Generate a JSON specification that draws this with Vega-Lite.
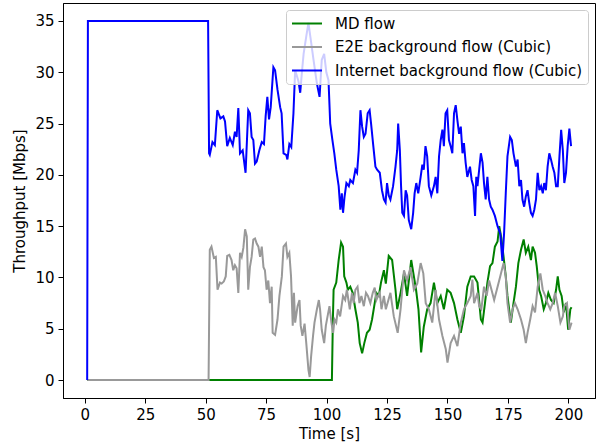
{
"$schema": "https://vega.github.io/schema/vega-lite/v6.json",
"width": 532, "height": 395,
"autosize": "none",
"padding": {"left": 63, "top": 3, "right": 4, "bottom": 50},
"config": {
  "font": "DejaVu Sans",
  "view": {"stroke": "black", "strokeWidth": 1},
  "axis": {"labelFont": "DejaVu Sans", "titleFont": "DejaVu Sans", "labelFontSize": 15, "titleFontSize": 15, "titleFontWeight": "normal", "labelColor": "black", "titleColor": "black", "tickColor": "black", "domainColor": "black", "tickSize": 5, "labelPadding": 4, "grid": false},
  "legend": {"labelFont": "DejaVu Sans", "labelFontSize": 15, "labelColor": "black", "labelLimit": 1000}
},
"layer": [
{
"data": {"values": [
{"t":1,"y":0},{"t":102.2,"y":0},{"t":102.6,"y":5.8},{"t":102.9,"y":8.8},{"t":104,"y":9.5},{"t":105,"y":11.7},{"t":106,"y":13.4},{"t":106.8,"y":13},{"t":107.3,"y":10.1},{"t":108.2,"y":9.5},{"t":108.8,"y":8.8},{"t":109.8,"y":9.1},{"t":110.8,"y":8.5},{"t":111.9,"y":6.9},{"t":112.9,"y":5.6},{"t":113.7,"y":3.6},{"t":114.7,"y":2.6},{"t":115.6,"y":3.6},{"t":116.7,"y":4.6},{"t":117.8,"y":4.9},{"t":118.8,"y":5.9},{"t":119.7,"y":7.2},{"t":120.6,"y":8.5},{"t":121.6,"y":8.2},{"t":122.5,"y":9.5},{"t":123.7,"y":10.7},{"t":124.5,"y":9.4},{"t":125.7,"y":12.1},{"t":127.1,"y":11.7},{"t":128.5,"y":8.8},{"t":129.2,"y":6.9},{"t":130.6,"y":8.5},{"t":132,"y":10.4},{"t":133.3,"y":8.2},{"t":135,"y":11.7},{"t":136.1,"y":10.1},{"t":137,"y":8.8},{"t":138,"y":6.9},{"t":139.1,"y":2.7},{"t":140.2,"y":5.2},{"t":141.6,"y":6.9},{"t":143,"y":7.5},{"t":144.4,"y":9.5},{"t":145.8,"y":7.5},{"t":147.2,"y":8.2},{"t":148.5,"y":6.9},{"t":149.9,"y":8.8},{"t":151.3,"y":8.5},{"t":152.7,"y":7.5},{"t":154.1,"y":5.9},{"t":155.5,"y":4.6},{"t":156.8,"y":6.2},{"t":158.2,"y":9.1},{"t":159.6,"y":10.1},{"t":161,"y":10.1},{"t":162.4,"y":9.5},{"t":163.8,"y":5.9},{"t":164.5,"y":5.6},{"t":165.5,"y":7.5},{"t":166.5,"y":9.5},{"t":167.6,"y":11.1},{"t":168.6,"y":11.4},{"t":169.6,"y":13},{"t":170.7,"y":13.5},{"t":171.4,"y":15},{"t":172.3,"y":13.8},{"t":173.2,"y":12},{"t":174.1,"y":10.1},{"t":174.8,"y":8.2},{"t":175.5,"y":6.9},{"t":176.2,"y":5.6},{"t":177.3,"y":7.5},{"t":178.3,"y":9.1},{"t":179.3,"y":11.4},{"t":180.4,"y":12.7},{"t":181.5,"y":13.7},{"t":182.4,"y":12.4},{"t":183.4,"y":13},{"t":184.5,"y":11.7},{"t":185.2,"y":13},{"t":186.2,"y":12.4},{"t":186.9,"y":11.1},{"t":187.9,"y":8.8},{"t":188.7,"y":8.2},{"t":189.8,"y":6.9},{"t":190.7,"y":7.5},{"t":191.7,"y":8.5},{"t":192.8,"y":7.8},{"t":193.9,"y":7.5},{"t":194.9,"y":8.8},{"t":195.6,"y":10.1},{"t":196.3,"y":8.8},{"t":197.2,"y":8.2},{"t":198.1,"y":6.6},{"t":199,"y":7.5},{"t":199.9,"y":4.9},{"t":200.8,"y":6.9},{"t":201.3,"y":7.1}
]},
"mark": {"type": "line", "strokeWidth": 2, "interpolate": "linear"},
"encoding": {
  "x": {"field": "t", "type": "quantitative", "scale": {"domain": [-9, 211], "nice": false, "zero": false}, "axis": {"values": [0,25,50,75,100,125,150,175,200], "title": "Time [s]", "titlePadding": 4}},
  "y": {"field": "y", "type": "quantitative", "scale": {"domain": [-1.75, 36.75], "nice": false, "zero": false}, "axis": {"values": [0,5,10,15,20,25,30,35], "title": "Throughput [Mbps]", "titlePadding": 7}},
  "color": {"datum": "MD flow", "type": "nominal", "scale": {"domain": ["MD flow", "E2E background flow (Cubic)", "Internet background flow (Cubic)"], "range": ["#008000", "#999999", "#0000ff"]},
    "legend": {"title": null, "orient": "top-right", "offset": 7, "symbolType": "M-1,0H3", "symbolSize": 225, "symbolStrokeWidth": 2, "labelOffset": 27, "rowPadding": 6.5, "padding": 5, "fillColor": "rgba(255,255,255,0.8)", "strokeColor": "#cccccc", "cornerRadius": 3, "zindex": 1}}
}
},
{
"data": {"values": [
{"t":1,"y":0},{"t":51.2,"y":0},{"t":51.7,"y":12.7},{"t":52.4,"y":13},{"t":53.4,"y":11.9},{"t":54.2,"y":12},{"t":54.9,"y":8.8},{"t":55.9,"y":9.5},{"t":56.6,"y":9.4},{"t":57.5,"y":9.6},{"t":58.3,"y":10.1},{"t":58.9,"y":12.1},{"t":59.8,"y":12.2},{"t":60.7,"y":11.7},{"t":61.4,"y":10.7},{"t":62.1,"y":11.2},{"t":62.8,"y":10.9},{"t":63.5,"y":8.5},{"t":64.2,"y":12.4},{"t":64.9,"y":12},{"t":65.6,"y":12.9},{"t":66.3,"y":14.7},{"t":67,"y":14},{"t":67.6,"y":8.8},{"t":68.3,"y":11},{"t":69,"y":12},{"t":69.7,"y":13.7},{"t":70.4,"y":13.8},{"t":71.1,"y":13.3},{"t":71.8,"y":13},{"t":72.5,"y":12},{"t":73.2,"y":13},{"t":73.9,"y":11},{"t":74.5,"y":10.7},{"t":75.2,"y":8.8},{"t":75.9,"y":9.7},{"t":76.6,"y":7.5},{"t":77.3,"y":9.1},{"t":77.7,"y":4.6},{"t":78.7,"y":4.4},{"t":79.7,"y":5.9},{"t":80.5,"y":8.2},{"t":81.5,"y":10.1},{"t":82.2,"y":13},{"t":83.2,"y":13.3},{"t":83.8,"y":12},{"t":84.6,"y":12.4},{"t":85.3,"y":10.1},{"t":86,"y":5.3},{"t":86.5,"y":8.5},{"t":87,"y":5.6},{"t":88,"y":7.2},{"t":88.8,"y":7.8},{"t":89.3,"y":5.3},{"t":90,"y":4.3},{"t":90.9,"y":5.5},{"t":91.6,"y":3.6},{"t":92.5,"y":1},{"t":93,"y":0.3},{"t":93.6,"y":2.3},{"t":94.4,"y":4.3},{"t":95,"y":5.6},{"t":96,"y":6.9},{"t":96.8,"y":7.8},{"t":97.3,"y":6.9},{"t":98,"y":4.9},{"t":99,"y":3.6},{"t":99.7,"y":5.3},{"t":100.4,"y":6.2},{"t":101.2,"y":7.2},{"t":102,"y":5.6},{"t":102.7,"y":4.6},{"t":103.3,"y":5.9},{"t":104,"y":5.6},{"t":104.7,"y":6.9},{"t":105.6,"y":6.2},{"t":106.8,"y":8.2},{"t":107.7,"y":7.8},{"t":108.4,"y":8.8},{"t":109.6,"y":6.9},{"t":110.5,"y":8.5},{"t":111.2,"y":7.5},{"t":111.9,"y":8.8},{"t":112.8,"y":9.1},{"t":113.6,"y":7.5},{"t":114.4,"y":8.2},{"t":115.4,"y":7.2},{"t":116.3,"y":8.5},{"t":117.1,"y":8.2},{"t":118.1,"y":7.5},{"t":119.1,"y":8.5},{"t":119.9,"y":9},{"t":120.6,"y":7.8},{"t":121.3,"y":8.2},{"t":122,"y":8.5},{"t":122.7,"y":6.9},{"t":123.7,"y":8.2},{"t":124.5,"y":6.9},{"t":126.4,"y":8.5},{"t":127.8,"y":6.2},{"t":129.4,"y":4.6},{"t":130.6,"y":6.9},{"t":132,"y":10.7},{"t":133.3,"y":9.7},{"t":134.7,"y":11},{"t":136.1,"y":8.8},{"t":137.5,"y":9.4},{"t":138.9,"y":11.4},{"t":140,"y":10.4},{"t":141,"y":7.5},{"t":142.3,"y":6.9},{"t":143.7,"y":5.6},{"t":145.1,"y":8.8},{"t":146.5,"y":5.9},{"t":147.9,"y":4.3},{"t":149.3,"y":3},{"t":150,"y":1.7},{"t":151.3,"y":3.6},{"t":152.7,"y":4.3},{"t":154.1,"y":3.3},{"t":155.5,"y":5.6},{"t":156.8,"y":6.9},{"t":158.2,"y":7.5},{"t":159.6,"y":8.2},{"t":160.3,"y":9.8},{"t":161,"y":7.5},{"t":162.4,"y":8.5},{"t":163.1,"y":7.2},{"t":164,"y":6.9},{"t":165.1,"y":9.1},{"t":166.2,"y":8.2},{"t":167.2,"y":9.7},{"t":168.2,"y":8.8},{"t":169.3,"y":7.8},{"t":170.4,"y":8.8},{"t":171.8,"y":10.1},{"t":173.2,"y":11.4},{"t":174.1,"y":10.1},{"t":174.8,"y":7.5},{"t":175.9,"y":5.6},{"t":176.9,"y":6.9},{"t":177.9,"y":7.5},{"t":179,"y":6.9},{"t":180.4,"y":5.9},{"t":181.5,"y":4.9},{"t":182.4,"y":3.6},{"t":183.1,"y":4.6},{"t":184.2,"y":5.9},{"t":185.2,"y":7.2},{"t":186.2,"y":6.6},{"t":187.3,"y":9.1},{"t":188.4,"y":10.4},{"t":189.4,"y":8.8},{"t":190.4,"y":8.2},{"t":191.4,"y":7.5},{"t":192.5,"y":6.9},{"t":193.5,"y":7.5},{"t":194.5,"y":8.5},{"t":195.6,"y":7.2},{"t":196.7,"y":5.6},{"t":197.7,"y":6.2},{"t":198.3,"y":7.2},{"t":199.4,"y":7.5},{"t":200.4,"y":4.9},{"t":201.3,"y":5.6}
]},
"mark": {"type": "line", "strokeWidth": 2},
"encoding": {
  "x": {"field": "t", "type": "quantitative"},
  "y": {"field": "y", "type": "quantitative"},
  "color": {"datum": "E2E background flow (Cubic)", "type": "nominal"}
}
},
{
"data": {"values": [
{"t":1,"y":0},{"t":1.3,"y":35},{"t":51,"y":35},{"t":51.4,"y":22.1},{"t":51.7,"y":21.95},{"t":52.8,"y":23.2},{"t":53.8,"y":22.9},{"t":54.8,"y":26.3},{"t":56.1,"y":25.5},{"t":57.3,"y":25.7},{"t":58,"y":25.2},{"t":58.9,"y":22.8},{"t":60,"y":23.6},{"t":61.2,"y":22.9},{"t":62.1,"y":24.2},{"t":62.8,"y":23.7},{"t":63.5,"y":26.5},{"t":64.2,"y":22.1},{"t":65.3,"y":22.4},{"t":66.5,"y":20.2},{"t":67.6,"y":26.3},{"t":68.3,"y":26},{"t":69,"y":23.7},{"t":69.7,"y":23.4},{"t":70.4,"y":21.1},{"t":71.1,"y":21.3},{"t":72.2,"y":22.4},{"t":73.2,"y":23.2},{"t":74.1,"y":23},{"t":74.8,"y":25.7},{"t":75.5,"y":27.6},{"t":76.2,"y":25.4},{"t":76.9,"y":26.6},{"t":78,"y":30.5},{"t":78.7,"y":30.2},{"t":79.7,"y":28.3},{"t":80.8,"y":26.6},{"t":81.4,"y":26},{"t":82.2,"y":22.1},{"t":83.3,"y":21.95},{"t":83.8,"y":21.5},{"t":84.6,"y":23},{"t":85.4,"y":22.7},{"t":86.3,"y":26},{"t":87,"y":30.2},{"t":88.4,"y":29.1},{"t":89.1,"y":28},{"t":89.8,"y":30},{"t":90.5,"y":31.8},{"t":91.6,"y":33.5},{"t":92.5,"y":34.8},{"t":93.5,"y":33.1},{"t":94.6,"y":31.2},{"t":96,"y":28.9},{"t":97.1,"y":27.6},{"t":98,"y":31.2},{"t":99,"y":31.8},{"t":99.9,"y":30},{"t":100.8,"y":29.2},{"t":101.5,"y":25},{"t":102.4,"y":23.4},{"t":103.2,"y":22.1},{"t":104,"y":20.5},{"t":105,"y":18.9},{"t":105.7,"y":16.6},{"t":106.3,"y":18.2},{"t":106.8,"y":16.3},{"t":107.4,"y":17.8},{"t":108.2,"y":19.2},{"t":109.2,"y":18.9},{"t":109.8,"y":19.5},{"t":110.9,"y":19.2},{"t":111.9,"y":20.5},{"t":112.6,"y":20.2},{"t":113.3,"y":22.4},{"t":114,"y":26.3},{"t":114.7,"y":24.7},{"t":115.4,"y":23.7},{"t":116.1,"y":24},{"t":117,"y":26},{"t":117.8,"y":26.3},{"t":118.4,"y":25},{"t":119.2,"y":23.1},{"t":120.2,"y":20.8},{"t":120.9,"y":20.5},{"t":122,"y":20.2},{"t":122.9,"y":18.5},{"t":123.7,"y":17.6},{"t":124.4,"y":17.3},{"t":125,"y":19.2},{"t":125.7,"y":18},{"t":126.4,"y":17.6},{"t":127.5,"y":18.9},{"t":128.5,"y":20.8},{"t":129.2,"y":22.4},{"t":129.6,"y":25},{"t":130.3,"y":22.4},{"t":130.8,"y":18.9},{"t":131.3,"y":16.3},{"t":132,"y":16},{"t":132.7,"y":18.5},{"t":133.3,"y":18},{"t":134,"y":15.6},{"t":135,"y":14.7},{"t":135.8,"y":16.3},{"t":136.4,"y":18.2},{"t":137.1,"y":19.2},{"t":137.9,"y":18.2},{"t":138.9,"y":19.8},{"t":139.6,"y":21},{"t":140.2,"y":20.5},{"t":140.9,"y":22.8},{"t":141.6,"y":21.8},{"t":142.3,"y":18.9},{"t":143.3,"y":18},{"t":144.4,"y":18.9},{"t":145.1,"y":19.8},{"t":145.8,"y":18.2},{"t":146.5,"y":21.8},{"t":147.2,"y":23.4},{"t":147.9,"y":24.4},{"t":148.5,"y":22.8},{"t":149.2,"y":26},{"t":149.9,"y":26.3},{"t":150.6,"y":23.4},{"t":151.3,"y":22.8},{"t":152,"y":22.1},{"t":152.7,"y":26},{"t":153.4,"y":26.8},{"t":154.1,"y":25.3},{"t":154.8,"y":24},{"t":155.5,"y":24.7},{"t":156.2,"y":22.1},{"t":156.8,"y":23.1},{"t":157.5,"y":21.2},{"t":158.2,"y":19.8},{"t":159.3,"y":20.8},{"t":160,"y":19.5},{"t":160.7,"y":18.9},{"t":161.4,"y":16},{"t":161.9,"y":19.8},{"t":162.4,"y":18.9},{"t":163.1,"y":20.5},{"t":163.8,"y":22.1},{"t":164.5,"y":21.2},{"t":165.1,"y":19.2},{"t":165.8,"y":17.6},{"t":166.5,"y":19.8},{"t":167.2,"y":17.6},{"t":167.9,"y":16.9},{"t":168.6,"y":16.6},{"t":169.6,"y":16},{"t":170.7,"y":15},{"t":171.8,"y":14.3},{"t":172.7,"y":11.6},{"t":173.4,"y":14.3},{"t":174.1,"y":18.2},{"t":174.8,"y":21.8},{"t":175.9,"y":23.7},{"t":176.6,"y":23.4},{"t":177.3,"y":22.1},{"t":178.3,"y":20.8},{"t":179,"y":21.5},{"t":179.7,"y":18.9},{"t":180.4,"y":19.5},{"t":181,"y":17.6},{"t":181.7,"y":16.9},{"t":182.4,"y":17.9},{"t":183.1,"y":18.5},{"t":183.8,"y":17.3},{"t":184.5,"y":16.3},{"t":185.2,"y":16},{"t":185.9,"y":16.6},{"t":186.6,"y":17.6},{"t":187.3,"y":20.2},{"t":188,"y":18.5},{"t":188.7,"y":18.9},{"t":189.4,"y":18.2},{"t":190,"y":19.2},{"t":190.7,"y":18.5},{"t":191.4,"y":20.8},{"t":192.1,"y":22.1},{"t":192.8,"y":21.5},{"t":193.5,"y":20.8},{"t":194.2,"y":20.2},{"t":194.9,"y":18.9},{"t":195.6,"y":18.9},{"t":196.3,"y":21.8},{"t":197,"y":24.4},{"t":197.7,"y":22.4},{"t":198.3,"y":19.2},{"t":199,"y":20.2},{"t":199.7,"y":22.8},{"t":200.4,"y":24.5},{"t":201.1,"y":22.8}
]},
"mark": {"type": "line", "strokeWidth": 2},
"encoding": {
  "x": {"field": "t", "type": "quantitative"},
  "y": {"field": "y", "type": "quantitative"},
  "color": {"datum": "Internet background flow (Cubic)", "type": "nominal"}
}
}
]
}
